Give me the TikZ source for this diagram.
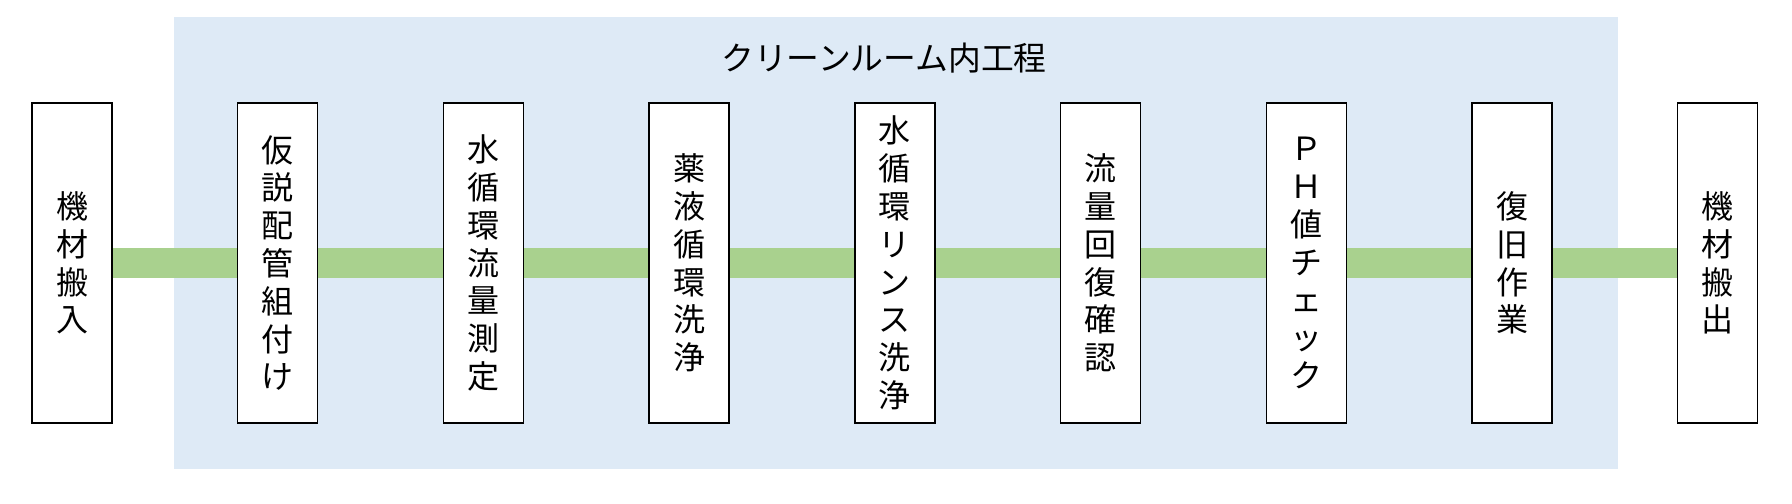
\documentclass[tikz,border=0pt]{standalone}
\usepackage{fontspec}
\setmainfont{Noto Sans CJK JP}
\usetikzlibrary{positioning,backgrounds}
\definecolor{roomblue}{RGB}{222,234,246}
\definecolor{bandgreen}{RGB}{169,209,142}
\tikzset{proc/.style={draw=black, line width=0.7pt, fill=white, rectangle, minimum width=40pt, minimum height=160pt, inner sep=2pt, outer sep=0pt, align=center, font=\fontsize{16}{18.9}\selectfont},
         band/.style={draw=bandgreen, line width=15pt}}
\begin{document}
\begin{tikzpicture}[x=0.5pt, y=0.5pt, node distance=62.86pt]
\useasboundingbox (0,0) rectangle (1792,503);
\node[proc] (inbound) at (72,240) {機\\材\\搬\\入};
\node[proc, right=of inbound] (kasetsu) {仮\\説\\配\\管\\組\\付\\け};
\node[proc, right=of kasetsu] (sokutei) {水\\循\\環\\流\\量\\測\\定};
\node[proc, right=of sokutei] (yakueki) {薬\\液\\循\\環\\洗\\浄};
\node[proc, right=of yakueki] (rinse) {水\\循\\環\\リ\\ン\\ス\\洗\\浄};
\node[proc, right=of rinse] (kaifuku) {流\\量\\回\\復\\確\\認};
\node[proc, right=of kaifuku] (phcheck) {Ｐ\\Ｈ\\値\\チ\\ェ\\ッ\\ク};
\node[proc, right=of phcheck] (fukkyu) {復\\旧\\作\\業};
\node[proc, right=of fukkyu] (outbound) {機\\材\\搬\\出};
\node[font=\fontsize{16.4}{19}\selectfont] (title) at (884,445) {クリーンルーム内工程};
\begin{pgfonlayer}{background}
  % clean room area
  \fill[roomblue] (174,34.5) rectangle (1618,486);
  \draw[band] (inbound) -- (kasetsu);
  \draw[band] (kasetsu) -- (sokutei);
  \draw[band] (sokutei) -- (yakueki);
  \draw[band] (yakueki) -- (rinse);
  \draw[band] (rinse) -- (kaifuku);
  \draw[band] (kaifuku) -- (phcheck);
  \draw[band] (phcheck) -- (fukkyu);
  \draw[band] (fukkyu) -- (outbound);
\end{pgfonlayer}
\end{tikzpicture}
\end{document}
